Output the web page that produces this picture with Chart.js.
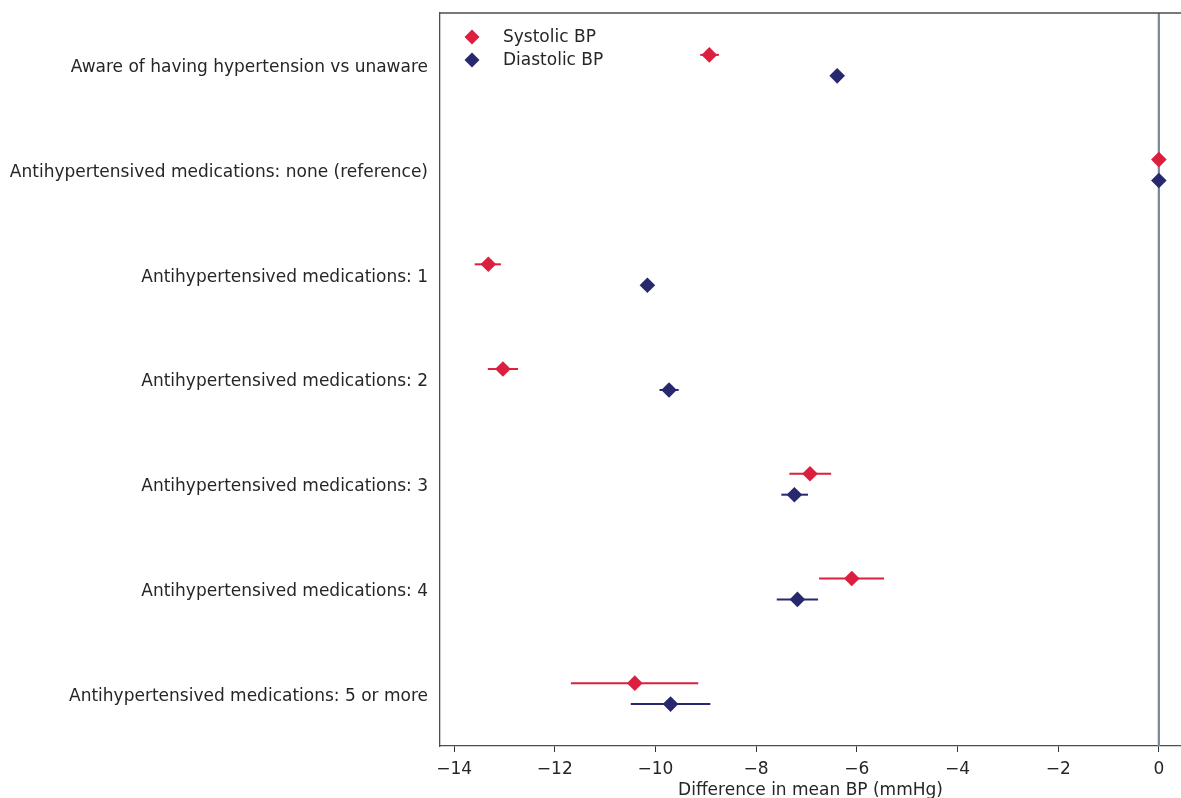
<!DOCTYPE html>
<html>
<head>
<meta charset="utf-8">
<script src="https://cdn.jsdelivr.net/npm/chart.js@4/dist/chart.umd.min.js"></script>
<style>
  html, body { margin: 0; padding: 0; background: #fff; }
  #wrap { width: 1181px; height: 798px; position: relative; }
</style>
</head>
<body>
<div id="wrap"><canvas id="c" width="1181" height="798"></canvas></div>
<script>
const categories = [
  "Aware of having hypertension vs unaware",
  "Antihypertensived medications: none (reference)",
  "Antihypertensived medications: 1",
  "Antihypertensived medications: 2",
  "Antihypertensived medications: 3",
  "Antihypertensived medications: 4",
  "Antihypertensived medications: 5 or more"
];
const systolicMean = [-8.93, 0, -13.32, -13.03, -6.93, -6.10, -10.41];
const systolicLow  = [-9.11, 0, -13.59, -13.33, -7.34, -6.75, -11.68];
const systolicHigh = [-8.74, 0, -13.07, -12.73, -6.51, -5.46, -9.15];
const diastolicMean = [-6.39, 0, -10.16, -9.73, -7.24, -7.18, -9.70];
const diastolicLow  = [-6.44, 0, -10.22, -9.92, -7.50, -7.59, -10.49];
const diastolicHigh = [-6.34, 0, -10.10, -9.54, -6.97, -6.77, -8.91];
const xTicks = [-14, -12, -10, -8, -6, -4, -2, 0];
const seriesNames = ["Systolic BP", "Diastolic BP"];

const RED = '#DC1E3F';
const NAVY = '#28286F';
const TEXT = '#262626';
const FONT = "'DejaVu Sans', sans-serif";
const FS = 17;
const OFF = 0.1;

function pts(vals, lo, hi, off) {
  return vals.map((v, i) => ({ x: v, y: i + off, lo: lo[i], hi: hi[i] }));
}

function noPad(s) {
  s.paddingTop = 0; s.paddingBottom = 0; s.paddingLeft = 0; s.paddingRight = 0;
}

const errorBars = {
  id: 'errorBars',
  beforeDatasetsDraw(chart) {
    const { ctx, chartArea, scales: { x, y } } = chart;
    const x0 = x.getPixelForValue(0);
    ctx.save();
    ctx.strokeStyle = '#778899';
    ctx.lineWidth = 2.2;
    ctx.beginPath();
    ctx.moveTo(x0, chartArea.top);
    ctx.lineTo(x0, chartArea.bottom);
    ctx.stroke();
    chart.data.datasets.forEach(ds => {
      ctx.strokeStyle = ds.backgroundColor;
      ctx.lineWidth = 2;
      ds.data.forEach(p => {
        const py = y.getPixelForValue(p.y);
        ctx.beginPath();
        ctx.moveTo(x.getPixelForValue(p.lo), py);
        ctx.lineTo(x.getPixelForValue(p.hi), py);
        ctx.stroke();
      });
    });
    ctx.restore();
  },
  afterDraw(chart) {
    const { ctx, chartArea } = chart;
    ctx.save();
    ctx.strokeStyle = '#4d4d4d';
    ctx.lineWidth = 1.3;
    ctx.beginPath();
    ctx.moveTo(chartArea.left, chartArea.top);
    ctx.lineTo(chart.width, chartArea.top);
    ctx.stroke();
    ctx.font = FS + "px " + FONT;
    ctx.textBaseline = 'middle';
    chart.data.datasets.forEach((ds, i) => {
      const ly = chartArea.top + 24 + i * 23;
      const lx = chartArea.left + 32;
      ctx.fillStyle = ds.backgroundColor;
      ctx.beginPath();
      const r = 7.5;
      ctx.moveTo(lx - r, ly); ctx.lineTo(lx, ly - r); ctx.lineTo(lx + r, ly); ctx.lineTo(lx, ly + r);
      ctx.closePath();
      ctx.fill();
      ctx.fillStyle = TEXT;
      ctx.textAlign = 'left';
      ctx.fillText(ds.label, lx + 31, ly + 1);
    });
    ctx.restore();
  }
};

new Chart(document.getElementById('c'), {
  type: 'scatter',
  data: {
    datasets: [
      { label: seriesNames[0], data: pts(systolicMean, systolicLow, systolicHigh, -OFF),
        backgroundColor: RED, borderColor: RED, pointStyle: 'rectRot', pointRadius: 7.8, borderWidth: 0 },
      { label: seriesNames[1], data: pts(diastolicMean, diastolicLow, diastolicHigh, OFF),
        backgroundColor: NAVY, borderColor: NAVY, pointStyle: 'rectRot', pointRadius: 7.8, borderWidth: 0 }
    ]
  },
  options: {
    responsive: false,
    animation: false,
    layout: { autoPadding: false, padding: { top: 13, right: 0, left: 0, bottom: 0 } },
    plugins: { legend: { display: false }, tooltip: { enabled: false } },
    scales: {
      x: {
        type: 'linear',
        min: -14.28, max: 0.44,
        afterBuildTicks: s => { s.ticks = xTicks.map(v => ({ value: v })); },
        afterFit: s => { s.height = 52; noPad(s); },
        grid: { display: true, drawOnChartArea: false, drawTicks: true, tickLength: 6, color: '#333' },
        border: { display: true, color: '#4d4d4d', width: 1.3 },
        ticks: {
          color: TEXT, font: { family: FONT, size: FS }, padding: 7, maxRotation: 0,
          callback: v => v < 0 ? '\u2212' + Math.abs(v) : String(v)
        },
        title: { display: true, text: 'Difference in mean BP (mmHg)', color: TEXT,
                 font: { family: FONT, size: FS }, padding: { top: 0, bottom: -3 } }
      },
      y: {
        type: 'linear',
        reverse: true,
        min: -0.5, max: 6.5,
        afterBuildTicks: s => { s.ticks = categories.map((_, i) => ({ value: i })); },
        afterFit: s => { s.width = 440; noPad(s); },
        grid: { display: false, drawTicks: false },
        border: { display: true, color: '#4d4d4d', width: 1.3 },
        ticks: {
          color: TEXT, font: { family: FONT, size: FS }, padding: 12, labelOffset: 2.5,
          callback: v => categories[v] ?? ''
        }
      }
    }
  },
  plugins: [errorBars]
});
</script>
</body>
</html>
